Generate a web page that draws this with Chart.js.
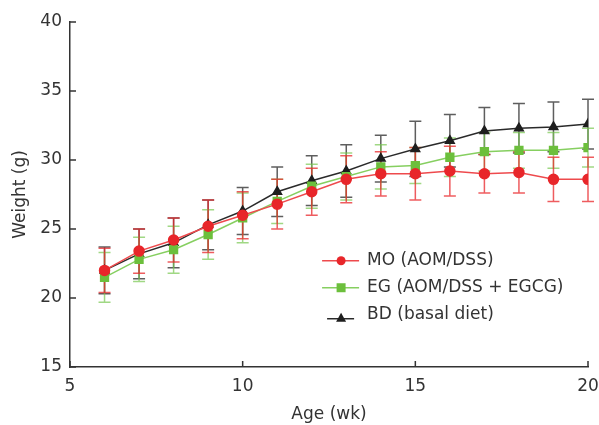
<!DOCTYPE html>
<html>
<head>
<meta charset="utf-8">
<script src="https://cdn.jsdelivr.net/npm/chart.js@4.4.1/dist/chart.umd.min.js"></script>
<style>
  html, body { margin: 0; padding: 0; background: #fff; }
  #wrap { width: 599px; height: 425px; }
</style>
</head>
<body>
<div id="wrap"><canvas id="chart" width="599" height="425"></canvas></div>
<script>
const weeks = [6, 7, 8, 9, 10, 11, 12, 13, 14, 15, 16, 17, 18, 19, 20];

const moWeight = [22.0, 23.4, 24.2, 25.2, 26.0, 26.8, 27.7, 28.6, 29.0, 29.0, 29.2, 29.0, 29.1, 28.6, 28.6];
const moErr = [1.6, 1.6, 1.6, 1.9, 1.7, 1.8, 1.7, 1.7, 1.6, 1.9, 1.8, 1.4, 1.5, 1.6, 1.6];

const egWeight = [21.5, 22.8, 23.5, 24.6, 25.8, 27.0, 28.1, 28.8, 29.5, 29.6, 30.2, 30.6, 30.7, 30.7, 30.9];
const egErr = [1.8, 1.6, 1.7, 1.8, 1.8, 1.6, 1.6, 1.7, 1.6, 1.3, 1.4, 1.4, 1.3, 1.3, 1.4];

const bdWeight = [22.0, 23.2, 24.0, 25.3, 26.3, 27.7, 28.5, 29.2, 30.1, 30.8, 31.4, 32.1, 32.3, 32.4, 32.6];
const bdErr = [1.7, 1.8, 1.8, 1.8, 1.7, 1.8, 1.8, 1.9, 1.7, 2.0, 1.9, 1.7, 1.8, 1.8, 1.8];

const xTicks = [5, 10, 15, 20];
const yTicks = [15, 20, 25, 30, 35, 40];

const FONT = "'DejaVu Sans', Verdana, sans-serif";
const TEXT = "#333";

const series = [
  { label: "MO (AOM/DSS)", y: moWeight, err: moErr, color: "#e8262a", line: "#ee4a4d", bar: "rgba(232,38,42,0.75)", point: "circle", radius: 5 },
  { label: "EG (AOM/DSS + EGCG)", y: egWeight, err: egErr, color: "#6cbf3c", line: "#86cf60", bar: "rgba(120,200,80,0.7)", point: "rect", radius: 5.5 },
  { label: "BD (basal diet)", y: bdWeight, err: bdErr, color: "#1e1e1e", line: "#2a2a2a", bar: "rgba(40,40,40,0.75)", point: "triangle", radius: 5 },
];

// error bars, drawn under the markers
const errorBars = {
  id: "errorBars",
  beforeDatasetsDraw(chart) {
    const { ctx, scales: { x, y } } = chart;
    ctx.save();
    for (let i = series.length - 1; i >= 0; i--) {
      const s = series[i];
      ctx.strokeStyle = s.bar;
      ctx.lineWidth = 1.5;
      weeks.forEach((w, j) => {
        const px = x.getPixelForValue(w);
        const top = y.getPixelForValue(s.y[j] + s.err[j]);
        const bot = y.getPixelForValue(s.y[j] - s.err[j]);
        ctx.beginPath();
        ctx.moveTo(px, top); ctx.lineTo(px, bot);
        ctx.moveTo(px - 6, top); ctx.lineTo(px + 6, top);
        ctx.moveTo(px - 6, bot); ctx.lineTo(px + 6, bot);
        ctx.stroke();
      });
    }
    ctx.restore();
  },
};

// inward tick marks and the legend inside the plot
const decorations = {
  id: "decorations",
  afterDraw(chart) {
    const { ctx, scales: { x, y } } = chart;
    ctx.save();
    ctx.strokeStyle = TEXT;
    ctx.lineWidth = 1.5;
    ctx.beginPath();
    xTicks.forEach((v) => {
      const px = x.getPixelForValue(v);
      ctx.moveTo(px, y.bottom); ctx.lineTo(px, y.bottom - 6);
    });
    yTicks.forEach((v) => {
      const py = y.getPixelForValue(v);
      ctx.moveTo(x.left, py); ctx.lineTo(x.left + 6, py);
    });
    ctx.stroke();

    // legend
    const lx = x.getPixelForValue(12.3);
    let ly = y.getPixelForValue(22.7);
    ctx.font = "17px " + FONT;
    ctx.textBaseline = "middle";
    series.forEach((s, i) => {
      const oy = i === 2 ? 4 : 0;
      const inset = i === 2 ? 5 : 0;
      ctx.strokeStyle = s.line;
      ctx.lineWidth = 1.5;
      ctx.beginPath();
      ctx.moveTo(lx + inset, ly + oy); ctx.lineTo(lx + 37 - inset, ly + oy);
      ctx.stroke();
      ctx.fillStyle = s.color;
      const cx = lx + 19;
      const cy = ly + oy;
      ctx.beginPath();
      if (s.point === "circle") ctx.arc(cx, cy, 4.5, 0, Math.PI * 2);
      else if (s.point === "rect") ctx.rect(cx - 4.5, cy - 4.5, 9, 9);
      else { ctx.moveTo(cx, cy - 6); ctx.lineTo(cx + 5, cy + 3); ctx.lineTo(cx - 5, cy + 3); ctx.closePath(); }
      ctx.fill();
      ctx.fillStyle = TEXT;
      ctx.fillText(s.label, lx + 45, ly);
      ly += 27;
    });
    ctx.restore();
  },
};

const chart = new Chart(document.querySelector("#chart").getContext("2d"), {
  type: "line",
  data: {
    datasets: series.map((s) => ({
      label: s.label,
      data: weeks.map((w, j) => ({ x: w, y: s.y[j] })),
      borderColor: s.line,
      backgroundColor: s.color,
      pointBackgroundColor: s.color,
      pointBorderColor: s.color,
      pointStyle: s.point,
      pointRadius: s.radius,
      borderWidth: 1.5,
      tension: 0,
      fill: false,
    })),
  },
  options: {
    responsive: false,
    animation: false,
    layout: { padding: { top: 22, right: 0, left: 6, bottom: 0 } },
    plugins: { legend: { display: false }, tooltip: { enabled: false } },
    scales: {
      x: {
        type: "linear",
        min: 5,
        max: 20,
        afterBuildTicks: (scale) => { scale.ticks = xTicks.map((v) => ({ value: v })); },
        afterFit: (scale) => { scale.height = 58; scale.paddingRight = 11; },
        grid: { display: false },
        border: { display: true, color: TEXT, width: 1.5 },
        ticks: { color: TEXT, font: { family: FONT, size: 17 }, padding: 1, maxRotation: 0 },
        title: { display: true, text: "Age (wk)", color: TEXT, font: { family: FONT, size: 17 }, padding: { top: 4, bottom: 0 } },
      },
      y: {
        min: 15,
        max: 40,
        afterBuildTicks: (scale) => { scale.ticks = yTicks.map((v) => ({ value: v })); },
        afterFit: (scale) => { scale.width = 64; },
        grid: { display: false },
        border: { display: true, color: TEXT, width: 1.5 },
        ticks: { color: TEXT, font: { family: FONT, size: 17 }, padding: 0 },
        title: { display: true, text: "Weight (g)", color: TEXT, font: { family: FONT, size: 17 }, padding: { bottom: 0 } },
      },
    },
  },
  plugins: [errorBars, decorations],
});
</script>
</body>
</html>
